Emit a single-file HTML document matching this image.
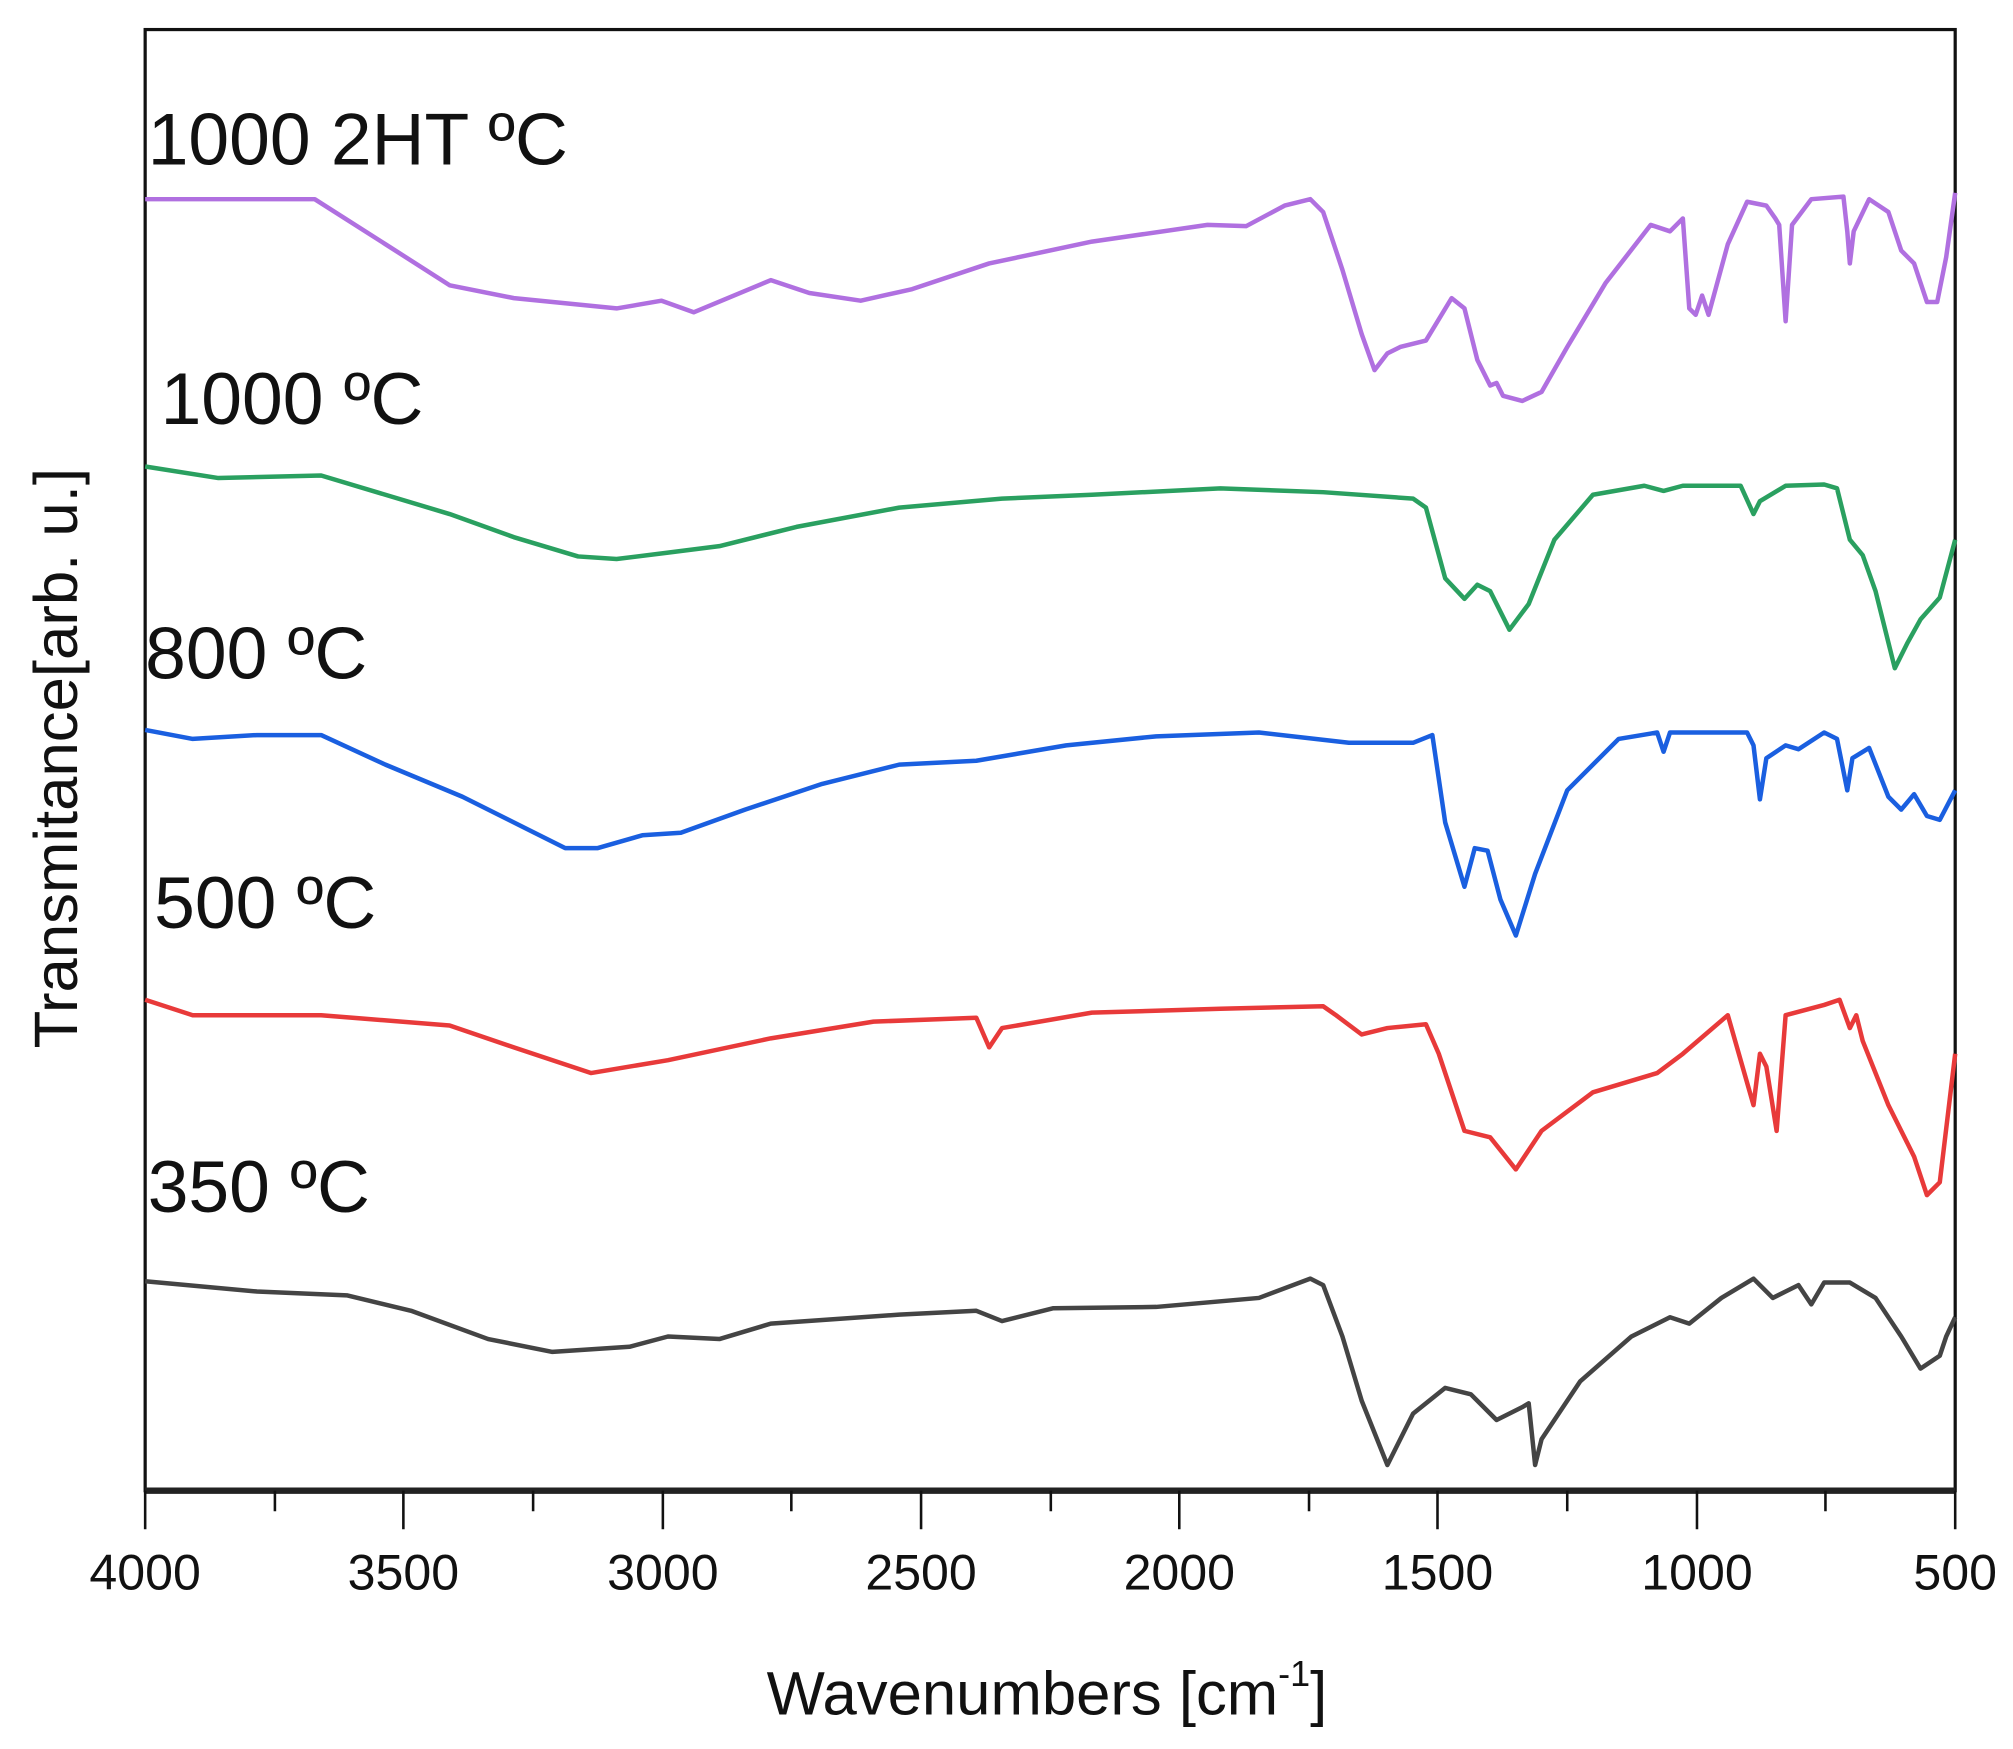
<!DOCTYPE html>
<html><head><meta charset="utf-8"><style>html,body{margin:0;padding:0;background:#fff}svg{display:block}</style></head>
<body>
<svg width="2013" height="1749" viewBox="0 0 1567 1361" preserveAspectRatio="none" xmlns="http://www.w3.org/2000/svg" font-family="Liberation Sans, sans-serif">
<rect x="0" y="0" width="1567" height="1361" fill="#fff"/>
<rect x="113" y="23" width="1409" height="1137" fill="none" stroke="#111" stroke-width="2.5"/>
<line x1="113" y1="1160" x2="1522" y2="1160" stroke="#222" stroke-width="5"/>
<g stroke="#111" stroke-width="2">
<line x1="113" y1="1160" x2="113" y2="1190"/><line x1="314" y1="1160" x2="314" y2="1190"/><line x1="516" y1="1160" x2="516" y2="1190"/><line x1="717" y1="1160" x2="717" y2="1190"/><line x1="918" y1="1160" x2="918" y2="1190"/><line x1="1119" y1="1160" x2="1119" y2="1190"/><line x1="1321" y1="1160" x2="1321" y2="1190"/><line x1="1522" y1="1160" x2="1522" y2="1190"/>
<line x1="214" y1="1160" x2="214" y2="1176"/><line x1="415" y1="1160" x2="415" y2="1176"/><line x1="616" y1="1160" x2="616" y2="1176"/><line x1="818" y1="1160" x2="818" y2="1176"/><line x1="1019" y1="1160" x2="1019" y2="1176"/><line x1="1220" y1="1160" x2="1220" y2="1176"/><line x1="1421" y1="1160" x2="1421" y2="1176"/>
</g>
<g font-size="39" text-anchor="middle" fill="#111">
<text x="113" y="1237">4000</text><text x="314" y="1237">3500</text><text x="516" y="1237">3000</text><text x="717" y="1237">2500</text><text x="918" y="1237">2000</text><text x="1119" y="1237">1500</text><text x="1321" y="1237">1000</text><text x="1522" y="1237">500</text>
</g>
<text x="815" y="1334" font-size="48" text-anchor="middle" fill="#111">Wavenumbers [cm<tspan font-size="28" dy="-22">-1</tspan><tspan dy="22">]</tspan></text>
<text transform="translate(60,590) rotate(-90)" font-size="48" text-anchor="middle" fill="#111">Transmitance[arb. u.]</text>
<g font-size="57" fill="#111">
<text x="115" y="128">1000 2HT ºC</text>
<text x="125" y="330">1000 ºC</text>
<text x="113" y="528">800 ºC</text>
<text x="120" y="722">500 ºC</text>
<text x="115" y="943">350 ºC</text>
</g>
<g fill="none" stroke-width="3.5" stroke-linejoin="round">
<polyline stroke="#b070e0" points="113,155 245,155 300,190 350,222 400,232 480,240 515,234 540,243 600,218 630,228 670,234 710,225 770,205 850,188 940,175 970,176 1000,160 1020,155 1030,165 1045,210 1060,260 1070,288 1080,275 1090,270 1110,265 1130,232 1140,240 1150,280 1160,300 1165,298 1170,308 1185,312 1200,305 1220,270 1250,220 1285,175 1300,180 1310,170 1315,240 1320,245 1325,230 1330,245 1345,190 1360,157 1375,160 1382,170 1385,175 1390,250 1395,175 1410,155 1435,153 1438,180 1440,205 1443,180 1455,155 1470,165 1480,195 1490,205 1500,235 1508,235 1515,200 1522,150"/>
<polyline stroke="#2aa060" points="113,363 170,372 250,370 300,385 350,400 400,418 450,433 480,435 520,430 560,425 620,410 700,395 780,388 850,385 950,380 1030,383 1100,388 1110,395 1125,450 1140,466 1150,455 1160,460 1175,490 1190,470 1210,420 1240,385 1280,378 1295,382 1310,378 1355,378 1365,400 1370,390 1390,378 1420,377 1430,380 1440,420 1450,432 1460,460 1470,500 1475,520 1485,500 1495,482 1510,465 1522,420"/>
<polyline stroke="#1a5fe0" points="113,568 150,575 200,572 250,572 300,595 360,620 410,645 440,660 465,660 500,650 530,648 580,630 640,610 700,595 760,592 830,580 900,573 980,570 1050,578 1100,578 1115,572 1125,640 1140,690 1148,660 1158,662 1168,700 1180,728 1195,680 1220,615 1260,575 1290,570 1295,585 1300,570 1360,570 1365,580 1370,622 1375,590 1390,580 1400,583 1420,570 1430,575 1438,615 1442,590 1455,582 1470,620 1480,630 1490,618 1500,635 1510,638 1522,615"/>
<polyline stroke="#e83a3a" points="113,778 150,790 250,790 350,798 400,815 460,835 520,825 600,808 680,795 760,792 770,815 780,800 850,788 950,785 1030,783 1040,790 1060,805 1080,800 1110,797 1120,820 1140,880 1160,885 1180,910 1200,880 1240,850 1290,835 1310,820 1345,790 1365,860 1370,820 1375,830 1383,880 1390,790 1420,782 1432,778 1440,800 1445,790 1450,810 1470,860 1490,900 1500,930 1510,920 1522,820"/>
<polyline stroke="#444" points="113,997 200,1005 270,1008 320,1020 380,1042 430,1052 490,1048 520,1040 560,1042 600,1030 700,1023 760,1020 780,1028 820,1018 900,1017 980,1010 1020,995 1030,1000 1045,1040 1060,1090 1080,1140 1100,1100 1125,1080 1145,1085 1165,1105 1185,1095 1190,1092 1195,1140 1200,1120 1230,1075 1270,1040 1300,1025 1315,1030 1340,1010 1365,995 1380,1010 1390,1005 1400,1000 1410,1015 1420,998 1440,998 1460,1010 1480,1040 1495,1065 1510,1055 1515,1040 1522,1025"/>
</g>
</svg>
</body></html>
